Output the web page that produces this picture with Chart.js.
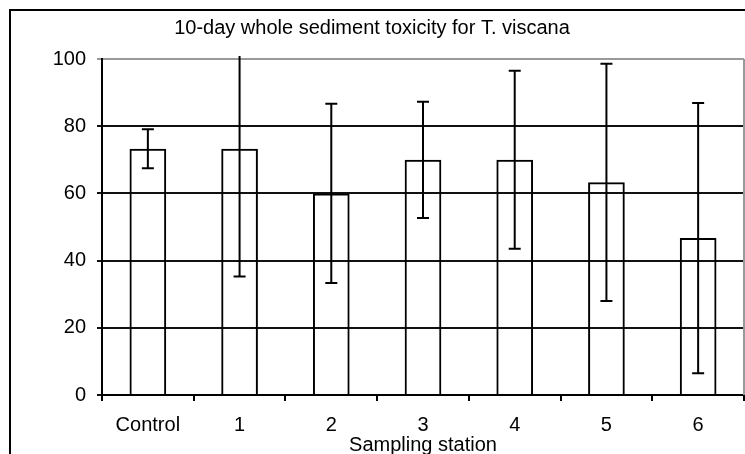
<!DOCTYPE html>
<html>
<head>
<meta charset="utf-8">
<script src="https://cdn.jsdelivr.net/npm/chart.js@4"></script>
<style>
    html, body { margin: 0; padding: 0; background: #fff; }
    #wrap { position: relative; width: 745px; height: 454px; overflow: hidden; }
    #frame { position: absolute; left: 9px; top: 9px; width: 800px; height: 500px;
             border-left: 2px solid #000; border-top: 2px solid #000; }
    canvas { position: absolute; left: 0; top: 0; }
</style>
</head>
<body>
<div id="wrap">
    <div id="frame"></div>
    <canvas id="chart"></canvas>
</div>
<script>
// Survival (%) per sampling station, with error bar half-widths
const stations = ['Control', '1', '2', '3', '4', '5', '6'];
const survival = [73.3, 73.3, 60, 70, 70, 63.3, 46.7];
const errors = [5.8, 38, 26.7, 17.3, 26.5, 35.3, 40.2];
const yTicks = [0, 20, 40, 60, 80, 100];

const FONT = '"Liberation Sans", Arial, sans-serif';

// draws the error bars through the y scale
const errorBars = {
    id: 'errorBars',
    afterDatasetsDraw(chart) {
        const ctx = chart.ctx;
        const y = chart.scales.y;
        const area = chart.chartArea;
        const meta = chart.getDatasetMeta(0);
        ctx.save();
        ctx.strokeStyle = '#000';
        ctx.lineWidth = 2;
        meta.data.forEach(function(bar, i) {
            const x = bar.x;
            let top = y.getPixelForValue(survival[i] + errors[i]);
            const bottom = y.getPixelForValue(survival[i] - errors[i]);
            let capTop = true;
            if (top < area.top - 3) { top = area.top - 3; capTop = false; }
            ctx.beginPath();
            ctx.moveTo(x, top);
            ctx.lineTo(x, bottom);
            if (capTop) { ctx.moveTo(x - 6, top); ctx.lineTo(x + 6, top); }
            ctx.moveTo(x - 6, bottom);
            ctx.lineTo(x + 6, bottom);
            ctx.stroke();
        });
        ctx.restore();
    }
};

// grey right border of the plot area
const plotBorder = {
    id: 'plotBorder',
    beforeDatasetsDraw(chart) {
        const ctx = chart.ctx;
        const a = chart.chartArea;
        ctx.save();
        ctx.strokeStyle = '#999';
        ctx.lineWidth = 2;
        ctx.beginPath();
        ctx.moveTo(a.right, a.top);
        ctx.lineTo(a.right, a.bottom);
        ctx.stroke();
        ctx.restore();
    }
};

const ctx = document.getElementById('chart').getContext('2d');
const chart = new Chart(ctx, {
    type: 'bar',
    data: {
        labels: stations,
        datasets: [{
            data: survival,
            backgroundColor: 'rgba(255,255,255,0)',
            borderColor: '#000',
            borderWidth: 2,
            barPercentage: 0.4,
            categoryPercentage: 1
        }]
    },
    options: {
        responsive: true,
        maintainAspectRatio: false,
        animation: false,
        layout: { padding: { left: 0, right: 1, top: 0, bottom: 0 } },
        plugins: {
            legend: { display: false },
            tooltip: { enabled: false },
            title: {
                display: true,
                text: '10-day whole sediment toxicity for T. viscana',
                color: '#000',
                font: { family: FONT, size: 20, weight: 'normal' },
                padding: { top: 16, bottom: 19 }
            }
        },
        scales: {
            x: {
                grid: {
                    offset: true,
                    drawOnChartArea: false,
                    drawTicks: true,
                    tickLength: 6,
                    color: '#000',
                    lineWidth: 2
                },
                border: { color: '#000', width: 2 },
                ticks: {
                    color: '#000',
                    padding: 12,
                    font: { family: FONT, size: 20 }
                },
                title: {
                    display: true,
                    text: 'Sampling station',
                    color: '#000',
                    padding: { top: 0, bottom: -3 },
                    font: { family: FONT, size: 20 }
                },
                afterFit(scale) { scale.height = 59; }
            },
            y: {
                min: 0,
                max: 100,
                afterBuildTicks(scale) {
                    scale.ticks = yTicks.map(function(v) { return { value: v }; });
                },
                grid: {
                    color: function(c) { return c.tick && c.tick.value === 100 ? '#999' : '#111'; },
                    lineWidth: 2,
                    tickLength: 5
                },
                border: { color: '#000', width: 2 },
                ticks: {
                    color: '#000',
                    padding: 11,
                    font: { family: FONT, size: 20 }
                },
                afterFit(scale) { scale.width = 102; }
            }
        }
    },
    plugins: [plotBorder, errorBars]
});
</script>
</body>
</html>
